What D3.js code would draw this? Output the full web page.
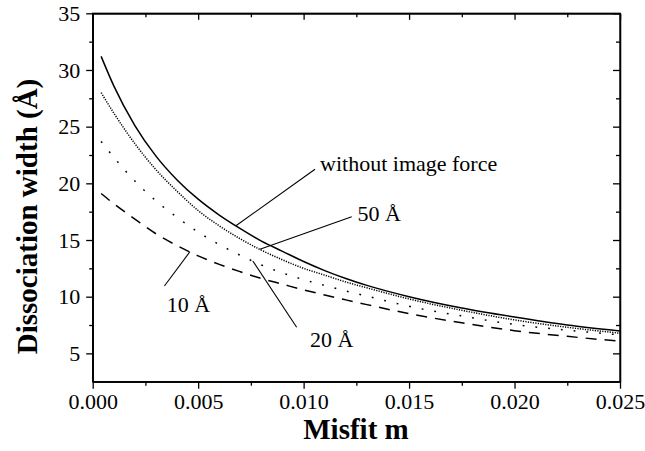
<!DOCTYPE html>
<html>
<head>
<meta charset="utf-8">
<script src="https://cdn.jsdelivr.net/npm/d3@7"></script>
<style>
    body { margin: 0; background: #fff; }
    text { font-family: "Liberation Serif", "Times New Roman", serif; fill: #000; }
</style>
</head>
<body>
<div id="chart-area"></div>
<script>
//============================DATA============================
// misfit values (x) shared by all four curves
var misfit = [0.0004, 0.001, 0.002, 0.003, 0.004, 0.005, 0.006, 0.007, 0.008, 0.009,
    0.010, 0.011, 0.012, 0.013, 0.015, 0.0175, 0.020, 0.0225, 0.025];

// dissociation width in Angstrom
var withoutImage = [31.2, 28.6, 25.1, 22.4, 20.3, 18.6, 17.2, 16.0, 14.9, 14.0,
    13.1, 12.3, 11.6, 11.0, 10.0, 9.0, 8.2, 7.5, 6.98];
var depth50 = [28.0, 26.2, 23.5, 21.2, 19.3, 17.6, 16.25, 15.1, 14.1, 13.25,
    12.5, 11.9, 11.3, 10.78, 9.8, 8.8, 7.95, 7.3, 6.78];
var depth20 = [23.7, 22.3, 20.2, 18.45, 17.0, 15.7, 14.6, 13.65, 12.8, 12.1,
    11.5, 11.0, 10.5, 10.05, 9.15, 8.3, 7.55, 7.05, 6.63];
var depth10 = [19.1, 18.2, 16.85, 15.55, 14.5, 13.6, 12.85, 12.2, 11.6, 11.1,
    10.6, 10.15, 9.72, 9.3, 8.5, 7.7, 7.0, 6.5, 6.07];

// tick values
var xTicks = [0.000, 0.005, 0.010, 0.015, 0.020, 0.025];
var xMinorTicks = [0.0025, 0.0075, 0.0125, 0.0175, 0.0225];
var yTicks = [5, 10, 15, 20, 25, 30, 35];
var yMinorTicks = [7.5, 12.5, 17.5, 22.5, 27.5, 32.5];

//============================GLOBALS============================
var margins = { left: 92.7, right: 25, top: 13.3, bottom: 69.3 };
var width = 645 - margins.left - margins.right;
var height = 451 - margins.top - margins.bottom;

var svg = d3.select("#chart-area")
    .append("svg")
    .attr("width", 645)
    .attr("height", 451);

var g = svg.append("g")
    .attr("transform", "translate(" + margins.left + ", " + margins.top + ")");

var x = d3.scaleLinear().domain([0, 0.025]).range([0, width]);
var y = d3.scaleLinear().domain([2.5, 35]).range([height, 0]);

//============================AXES============================
function styleAxis(sel) {
    sel.selectAll("path").style("stroke", "#000").style("stroke-width", 1.3);
    sel.selectAll("line").style("stroke", "#000").style("stroke-width", 1.3);
    sel.selectAll("text").style("font-size", "22px").style("fill", "#000");
}

// bottom (outward)
g.append("g")
    .attr("transform", "translate(0," + height + ")")
    .call(d3.axisBottom(x).tickValues(xTicks).tickSize(7).tickSizeOuter(0).tickPadding(5)
        .tickFormat(d3.format(".3f")))
    .call(styleAxis);
g.append("g")
    .attr("transform", "translate(0," + height + ")")
    .call(d3.axisBottom(x).tickValues(xMinorTicks).tickSize(4).tickSizeOuter(0).tickFormat(""))
    .call(styleAxis);

// top (ticks point down, into the plot)
g.append("g")
    .call(d3.axisBottom(x).tickValues(xTicks).tickSize(6.5).tickSizeOuter(0).tickFormat(""))
    .call(styleAxis);
g.append("g")
    .call(d3.axisBottom(x).tickValues(xMinorTicks).tickSize(4).tickSizeOuter(0).tickFormat(""))
    .call(styleAxis);

// left (outward)
g.append("g")
    .call(d3.axisLeft(y).tickValues(yTicks).tickSize(6.5).tickSizeOuter(0).tickPadding(6))
    .call(styleAxis);
g.append("g")
    .call(d3.axisLeft(y).tickValues(yMinorTicks).tickSize(3.5).tickSizeOuter(0).tickFormat(""))
    .call(styleAxis);

// right (axisLeft at the right edge -> ticks point into the plot)
g.append("g")
    .attr("transform", "translate(" + width + ",0)")
    .call(d3.axisLeft(y).tickValues(yTicks).tickSize(7).tickSizeOuter(0).tickFormat(""))
    .call(styleAxis);
g.append("g")
    .attr("transform", "translate(" + width + ",0)")
    .call(d3.axisLeft(y).tickValues(yMinorTicks).tickSize(4).tickSizeOuter(0).tickFormat(""))
    .call(styleAxis);

// frame
g.append("rect")
    .attr("x", 0).attr("y", 0)
    .attr("width", width).attr("height", height)
    .attr("fill", "none")
    .attr("stroke", "#000")
    .attr("stroke-width", 1.3);

// axis titles
g.append("text")
    .attr("x", 356 - margins.left)
    .attr("y", 439 - margins.top)
    .attr("text-anchor", "middle")
    .attr("font-size", "29px")
    .attr("font-weight", "bold")
    .text("Misfit m");

g.append("text")
    .attr("transform", "translate(" + (37.5 - margins.left) + "," + (216.5 - margins.top) + ") rotate(-90)")
    .attr("text-anchor", "middle")
    .attr("font-size", "29px")
    .attr("font-weight", "bold")
    .text("Dissociation width (Å)");

//============================CURVES============================
var line = d3.line()
    .x(function(d) { return x(d[0]); })
    .y(function(d) { return y(d[1]); })
    .curve(d3.curveMonotoneX);

function addCurve(values, dash) {
    g.append("path")
        .datum(misfit.map(function(m, i) { return [m, values[i]]; }))
        .attr("d", line)
        .attr("fill", "none")
        .attr("stroke", "#000")
        .attr("stroke-width", 1.5)
        .attr("stroke-dasharray", dash);
}
addCurve(withoutImage, null);
addCurve(depth50, "1.2,1.3");
addCurve(depth20, "1.8,11");
addCurve(depth10, "11,8");

//============================LABELS============================
function leader(x1, y1, x2, y2) {
    g.append("line")
        .attr("x1", x(x1)).attr("y1", y(y1))
        .attr("x2", x(x2)).attr("y2", y(y2))
        .attr("stroke", "#000")
        .attr("stroke-width", 1.1);
}
function label(tx, ty, txt) {
    g.append("text")
        .attr("x", x(tx)).attr("y", y(ty))
        .attr("font-size", "22px")
        .text(txt);
}
leader(0.00679, 16.26, 0.01054, 21.24);
label(0.01078, 21.12, "without image force");
leader(0.00793, 14.18, 0.01228, 17.06);
label(0.01256, 16.70, "50 Å");
leader(0.00759, 13.15, 0.00967, 7.30);
label(0.0103, 5.59, "20 Å");
leader(0.0046, 13.94, 0.0034, 10.94);
label(0.00351, 8.62, "10 Å");
</script>
</body>
</html>
